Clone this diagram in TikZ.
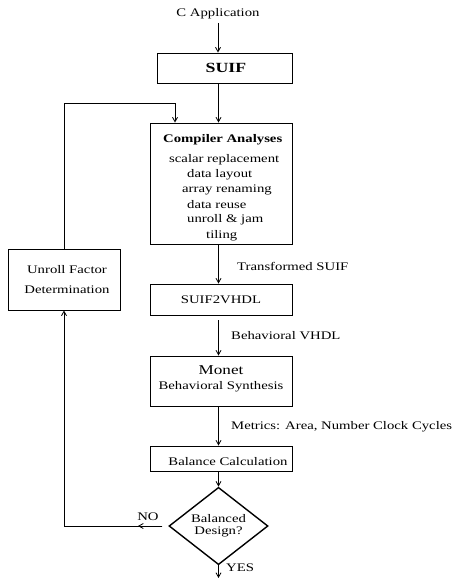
\documentclass[tikz,border=0pt]{standalone}
\usepackage{fontspec}
\setmainfont[FakeStretch=1.27]{Liberation Serif}
\usetikzlibrary{arrows.meta, shapes.geometric}
\tikzset{
  box/.style={draw, line width=0.9pt, inner sep=0pt},
  arr/.style={-{Straight Barb[length=4.5pt,width=5pt]}, line width=0.8pt},
  lbl/.style={anchor=west, inner sep=0pt},
  every node/.style={font=\fontsize{11.6}{13.9}\selectfont}
}
\begin{document}
\begin{tikzpicture}[x=1pt, y=-1pt]
  \useasboundingbox (0,0) rectangle (451,578);
  \node (capp) at (218,14) {C Application};
  \node[box, minimum width=135pt, minimum height=30pt] (suif) at (224.5,68) {};
  \node[font=\fontsize{14}{16}\selectfont\bfseries] at (226,68) {SUIF};
  \node[box, minimum width=142pt, minimum height=121pt] (comp) at (221,183.5) {};
  \node[lbl, font=\fontsize{11.6}{13.9}\selectfont\bfseries] at (163,140) {Compiler Analyses};
  \node[lbl] at (169,160) {scalar replacement};
  \node[lbl] at (187,175) {data layout};
  \node[lbl] at (182,190) {array renaming};
  \node[lbl] at (187,205) {data reuse};
  \node[lbl] at (187,220) {unroll \& jam};
  \node[lbl] at (206,236) {tiling};
  \node[box, minimum width=112pt, minimum height=61pt, align=center] (unroll) at (64,279.5)
    {\hspace*{6pt}Unroll Factor\\[6pt]\hspace*{6pt}Determination};
  \node[box, minimum width=142pt, minimum height=31pt] (s2v) at (221,299.5) {SUIF2VHDL};
  \node[box, minimum width=142pt, minimum height=50pt] (monet) at (221,381) {};
  \node[font=\fontsize{13.5}{16}\selectfont] at (221,370) {Monet};
  \node at (221,387) {Behavioral Synthesis};
  \node[box, minimum width=142pt, minimum height=25pt] (bal) at (221,458.5) {};
  \node at (228,462) {Balance Calculation};
  \node[draw, diamond, line width=1.4pt, minimum width=99pt, minimum height=60pt, inner sep=0pt,
    align=center, font=\fontsize{11.6}{12}\selectfont] (dec) at (218.5,526) {Balanced\\Design?};
  \coordinate (looptop) at (175,103);
  \coordinate (nomid) at (138,526);
  \coordinate (yesend) at (218.5,578);
  % main flow
  \draw[arr] (capp.south) -- (capp.south |- suif.north);
  \draw[arr] (dec.north |- suif.south) -- (dec.north |- comp.north);
  \draw[arr] (dec.north |- comp.south) -- (dec.north |- s2v.north);
  \draw[arr, shorten <=5pt] (dec.north |- s2v.south) -- (dec.north |- monet.north);
  \draw[arr] (dec.north |- monet.south) -- (dec.north |- bal.north);
  \draw[arr] (dec.north |- bal.south) -- (dec.north);
  \draw[arr] (dec.south) -- (yesend);
  % feedback loop
  \draw[arr, shorten <=6pt] (dec.west) -- (nomid);
  \draw[arr, shorten <=6pt] (dec.west) -| (unroll.south);
  \draw[arr] (unroll.north) |- (looptop) -- (looptop |- comp.north);
  % labels
  \node[lbl] at (237,266) {Transformed SUIF};
  \node[lbl] at (231,336) {Behavioral VHDL};
  \node[lbl] at (231,427) {Metrics: Area, Number Clock Cycles};
  \node at (148,517) {NO};
  \node[lbl] at (226,568) {YES};
\end{tikzpicture}
\end{document}
